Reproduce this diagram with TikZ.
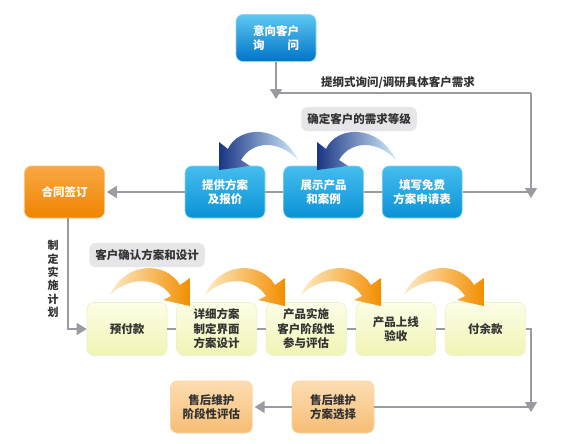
\documentclass[tikz,border=0pt]{standalone}
\usepackage{fontspec}
\setmainfont{Noto Sans CJK SC}
\usepackage{tikz}
\usetikzlibrary{arrows.meta, positioning, calc}
\usepackage{xcolor}
\definecolor{linegray}{HTML}{9A9BA0}
\definecolor{bluetop}{HTML}{45BDEE}
\definecolor{bluebot}{HTML}{0A92D6}
\definecolor{bluerim}{HTML}{8FD6F2}
\definecolor{asktop}{HTML}{5CC8F2}
\definecolor{askbot}{HTML}{0074C6}
\definecolor{orangetop}{HTML}{F9A843}
\definecolor{orangebot}{HTML}{EF8400}
\definecolor{orangerim}{HTML}{F9C37A}
\definecolor{paytop}{HTML}{FDFDE6}
\definecolor{paybot}{HTML}{F0F4B4}
\definecolor{payrim}{HTML}{EDF0C6}
\definecolor{servtop}{HTML}{FCDDB2}
\definecolor{servbot}{HTML}{F7BD74}
\definecolor{servrim}{HTML}{FAD39E}
\definecolor{tagfill}{HTML}{E6E6E8}
\definecolor{navy}{HTML}{1A3585}
\definecolor{bluemid}{HTML}{2285D6}
\definecolor{bluefade}{HTML}{D2EBF9}
\definecolor{orfade}{HTML}{FDEBC8}
\definecolor{ormid}{HTML}{F7B451}
\definecolor{ordeep}{HTML}{F28E00}
\definecolor{darktext}{HTML}{333333}
\newcommand{\boxfont}{\fontsize{11.5}{14.5}\selectfont\bfseries}
\tikzstyle{box} = [rectangle, rounded corners=7pt, minimum width=80pt, minimum height=52pt, text centered, align=center, font=\boxfont, line width=0.6pt]
\tikzstyle{bluebox} = [box, draw=bluerim, top color=bluetop, bottom color=bluebot, text=white]
\tikzstyle{askbox} = [box, minimum height=47pt, draw=bluerim, top color=asktop, bottom color=askbot, text=white]
\tikzstyle{orangebox} = [box, draw=orangerim, top color=orangetop, bottom color=orangebot, text=white]
\tikzstyle{paybox} = [box, minimum height=53pt, draw=payrim, top color=paytop, bottom color=paybot, text=darktext]
\tikzstyle{servbox} = [box, minimum width=82pt, draw=servrim, top color=servtop, bottom color=servbot, text=darktext]
\tikzstyle{tag} = [rectangle, rounded corners=6pt, fill=tagfill, text=darktext, font=\boxfont, inner xsep=6pt, minimum height=24pt]
\tikzstyle{link} = [line width=1.6pt, draw=linegray]
\tikzstyle{arrow} = [link, -{Triangle[width=12pt,length=10pt]}]
% curved arrows above the boxes
\newcommand{\bluebend}[1]{\shade[left color=navy, middle color=bluemid, right color=bluefade, shift={(#1,0)}] (298,160) .. controls (280,123) and (238,126) .. (228,149) -- (219,142) -- (219,170) -- (250,166) -- (241,160) .. controls (252,141) and (278,139) .. (298,160) -- cycle;}
\newcommand{\orangebend}[1]{\shade[left color=orfade, middle color=ormid, right color=ordeep, shift={(#1,0)}] (110,295) .. controls (125,261) and (166,261) .. (180,285) -- (190,278) -- (190,306) -- (163,300) -- (171,296) .. controls (160,278) and (130,275) .. (110,295) -- cycle;}
\begin{document}
\begin{tikzpicture}[x=1pt, y=-1pt]
        \useasboundingbox (0,0) rectangle (570,444);
        \node (ask) [askbox] at (276,38) {意向客户\\询\hspace{2em}问};
        \node (offer) [bluebox] at (225,192) {提供方案\\及报价};
        \node (show) [bluebox, right=18pt of offer] {展示产品\\和案例};
        \node (form) [bluebox, right=18pt of show] {填写免费\\方案申请表};
        \node (contract) [orangebox] at (64.5,192) {合同签订};
        \node (pay) [paybox] at (127,329) {预付款};
        \node (design) [paybox, right=9pt of pay] {详细方案\\制定界面\\方案设计};
        \node (build) [paybox, right=9pt of design] {产品实施\\客户阶段性\\参与评估};
        \node (accept) [paybox, right=9pt of build] {产品上线\\验收};
        \node (balance) [paybox, right=9pt of accept] {付余款};
        \node (select) [servbox] at (333,407) {售后维护\\方案选择};
        \node (review) [servbox, left=39pt of select] {售后维护\\阶段性评估};
        \node (grade) [tag] at (359,119) {确定客户的需求等级};
        \node (confirm) [tag] at (147,255) {客户确认方案和设计};
        \node (survey) [font=\boxfont, text=darktext] at (398,83) {提纲式询问/调研具体客户需求};
        \node (plan) [font=\fontsize{11}{13.4}\selectfont\bfseries, text=darktext, align=center] at (53,279) {制\\定\\实\\施\\计\\划};

        \coordinate (split) at (276,99);
        \coordinate (corner1) at (531,93);
        \coordinate (corner2) at (531,198);
        \coordinate (down) at (68,329);
        \coordinate (corner3) at (531,412);

        \draw [link] (ask.south |- corner1) -- (corner1);
        \draw [arrow] (corner1) -- (corner2);
        \draw [arrow] (ask) -- (split);
        \draw [link] (corner2 |- form) -- (form);
        \draw [link] (form) -- (show);
        \draw [link] (show) -- (offer);
        \draw [arrow, shorten >=2pt] (offer) -- (contract);
        \draw [arrow] (contract.south -| down) -- (down) -- (pay);
        \draw [link] (pay) -- (design);
        \draw [link] (design) -- (build);
        \draw [link] (build) -- (accept);
        \draw [link] (accept) -- (balance);
        \draw [arrow] (balance) -- (balance -| corner3) -- (corner3);
        \draw [link] (corner3 |- select) -- (select);
        \draw [arrow, shorten >=2pt] (select) -- (review);

        \bluebend{0}
        \bluebend{98}
        \orangebend{0}
        \orangebend{95}
        \orangebend{191}
        \orangebend{294}
    \end{tikzpicture}
\end{document}
